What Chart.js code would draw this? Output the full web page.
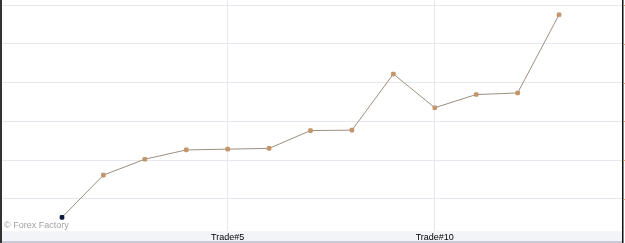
<!DOCTYPE html>
<html>
<head>
<meta charset="utf-8">
<script src="https://cdn.jsdelivr.net/npm/chart.js@4/dist/chart.umd.min.js"></script>
<style>
html,body{margin:0;padding:0;background:#fff;overflow:hidden;}
#c{display:block;}
</style>
</head>
<body>
<canvas id="c" width="625" height="243"></canvas>
<script>
// Data
const trades = [1,2,3,4,5,6,7,8,9,10,11,12,13];
const balance = [-4.8, 6.1, 10.2, 12.6, 12.8, 13.0, 17.6, 17.7, 32.2, 23.5, 26.9, 27.3, 47.5];
const xTickValues = [5, 10];
const yGridValues = [0, 10, 20, 30, 40, 50];
const tickPrefix = 'Trade#';
const watermark = '\u00A9 Forex Factory';

const points = trades.map((t, i) => ({x: t, y: balance[i]}));

const decor = {
  id: 'decor',
  beforeDraw(chart) {
    const {ctx, chartArea} = chart;
    const W = chart.width, H = chart.height;
    ctx.save();
    ctx.fillStyle = '#ffffff';
    ctx.fillRect(0, 0, W, H);
    ctx.fillStyle = '#f3f4f8';
    ctx.fillRect(0, chartArea.bottom, chartArea.right, H - chartArea.bottom);
    ctx.fillStyle = '#cacbd6';
    ctx.fillRect(0, H - 2, chartArea.right, 2);
    ctx.restore();
  },
  afterDatasetsDraw(chart) {
    const {ctx, chartArea} = chart;
    const ys = chart.scales.y;
    ctx.save();
    ctx.fillStyle = '#333333';
    ctx.fillRect(0, 0, 2, chart.height);
    ctx.fillStyle = '#111111';
    ctx.fillRect(chartArea.right, 0, 1.5, chart.height);
    ctx.fillStyle = '#e3a766';
    yGridValues.forEach(v => {
      const py = Math.round(ys.getPixelForValue(v));
      ctx.fillRect(chartArea.right + 1.5, py, 2, 1);
    });
    ctx.fillStyle = '#a3a3a3';
    ctx.font = '9px "Liberation Sans", Arial, sans-serif';
    ctx.textBaseline = 'middle';
    ctx.fillText(watermark, 4, chartArea.bottom - 6);
    ctx.restore();
  }
};

new Chart(document.getElementById('c'), {
  type: 'line',
  data: {
    datasets: [{
      data: points,
      borderColor: '#9d8f82',
      borderWidth: 1,
      tension: 0,
      pointStyle: 'rectRounded',
      pointRadius: 2.7,
      pointBorderWidth: 0,
      pointBackgroundColor: ctx => ctx.dataIndex === 0 ? '#0e1a3c' : '#c39568',
      fill: false
    }]
  },
  options: {
    responsive: false,
    animation: false,
    layout: {autoPadding: false, padding: {left: 0, right: 3, top: 0, bottom: 0}},
    plugins: {legend: {display: false}, tooltip: {enabled: false}},
    scales: {
      x: {
        type: 'linear',
        min: -0.497,
        max: 14.52,
        afterBuildTicks: s => { s.ticks = xTickValues.map(v => ({value: v})); },
        afterFit: s => { s.paddingLeft = 0; s.paddingRight = 0; },
        grid: {color: '#e6e8f0', drawTicks: false, lineWidth: 1},
        border: {display: false},
        ticks: {
          padding: 1,
          color: '#000',
          font: {family: '"Liberation Sans", Arial, sans-serif', size: 9, lineHeight: 1.1},
          callback: v => tickPrefix + v,
          maxRotation: 0
        }
      },
      y: {
        type: 'linear',
        position: 'right',
        min: -8.35,
        max: 51.3,
        afterBuildTicks: s => { s.ticks = yGridValues.map(v => ({value: v})); },
        afterFit: s => { s.width = 0; s.paddingTop = 0; s.paddingBottom = 0; },
        grid: {color: '#e6e8f0', drawTicks: false},
        border: {display: false},
        ticks: {display: false}
      }
    }
  },
  plugins: [decor]
});
</script>
</body>
</html>
